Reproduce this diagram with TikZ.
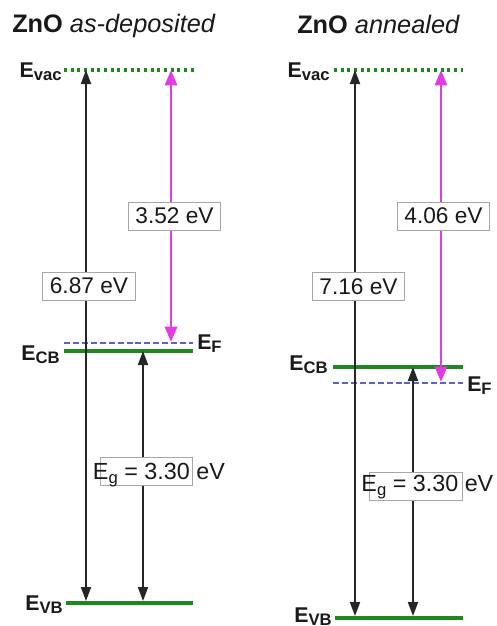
\documentclass[tikz,border=0pt]{standalone}
\usepackage{fontspec}
\setmainfont{Liberation Sans}
\usetikzlibrary{arrows.meta,positioning}
\definecolor{lvlgreen}{RGB}{30,135,30}
\definecolor{wfpink}{RGB}{225,60,225}
\definecolor{efblue}{RGB}{95,95,205}
\newcommand\sublbl[2]{#1\raisebox{-0.35ex}{\fontsize{12.5}{13}\selectfont #2}}

\begin{document}
\begin{tikzpicture}[x=0.75pt,y=-0.75pt]
  \tikzset{
    band/.style={lvlgreen, line width=2.3pt},
    vaclvl/.style={lvlgreen, line width=2.3pt, dash pattern=on 2.2pt off 2.8pt},
    fermi/.style={efblue, line width=1.1pt, dash pattern=on 4.5pt off 2.2pt},
    gaparr/.style={{Triangle[length=10.5pt,width=7.5pt]}-{Triangle[length=10.5pt,width=7.5pt]}, black!85, line width=1.4pt},
    wfarr/.style={{Triangle[length=11.5pt,width=9pt]}-{Triangle[length=11.5pt,width=9pt]}, wfpink, line width=2.2pt},
    valbox/.style={draw=black!35, fill=white, text=black!90, line width=0.6pt, minimum width=69.5pt, minimum height=21pt, inner sep=1pt, font=\fontsize{17}{19}\selectfont},
    gaptxt/.style={inner sep=0pt, anchor=base west, text=black!90, font=\fontsize{17.5}{19}\selectfont},
    lvltxt/.style={inner sep=0pt, text=black!90, font=\bfseries\fontsize{16}{18}\selectfont},
    ttl/.style={inner sep=0pt, anchor=base west, text=black!90, font=\fontsize{19}{22}\selectfont}
  }
  \useasboundingbox (0,0) rectangle (497,626);

  % ================= AS-DEPOSITED =================
  \node[ttl] (ttlA) at (12,32) {\textbf{ZnO} \textit{as-deposited}};

  % Levels
  \coordinate (vacAw) at (64,70);  \coordinate (vacAe) at (195,70);
  \coordinate (efAw) at (64,343);  \coordinate (efAe) at (193,343);
  \coordinate (cbAw) at (64,351);  \coordinate (cbAe) at (193,351);
  \coordinate (vbAw) at (66,603);  \coordinate (vbAe) at (193,603);
  \draw[vaclvl] (vacAw) -- (vacAe);
  \draw[fermi] (efAw) -- (efAe);
  \draw[band] (cbAw) -- (cbAe);
  \draw[band] (vbAw) -- (vbAe);

  \node[lvltxt, anchor=base east] (EvacA) at (62,77) {\sublbl{E}{vac}};
  \node[lvltxt, anchor=base east] (EcbA) at (60,360) {\sublbl{E}{CB}};
  \node[lvltxt, anchor=base west] (EfA) at (197,349) {\sublbl{E}{F}};
  \node[lvltxt, anchor=base east] (EvbA) at (63,610) {\sublbl{E}{VB}};

  % Arrows
  \coordinate (totAt) at (86,70);   \coordinate (totAb) at (86,601);
  \coordinate (wfAt) at (171,70);   \coordinate (wfAb) at (171,342);
  \coordinate (egAt) at (143,351);  \coordinate (egAb) at (143,601);
  \draw[gaparr] (totAt) -- node[valbox, pos=.407, xshift=2.2pt] (totA) {6.87 eV} (totAb);
  \draw[wfarr] (wfAt) -- node[valbox, pos=.537, xshift=2.6pt] (wfA) {3.52 eV} (wfAb);
  \draw[gaparr] (egAt) -- node[valbox, pos=.48, xshift=2.6pt] (egAbox) {} (egAb);
  \node[gaptxt] (egA) at ([xshift=-5.25pt, yshift=-6.4pt]egAbox.west) {\sublbl{E}{g} = 3.30 eV};

  % ================= ANNEALED =================
  \node[ttl] (ttlB) at (297,33) {\textbf{ZnO} \textit{annealed}};

  % Levels
  \coordinate (vacBw) at (334,70);  \coordinate (vacBe) at (463,70);
  \coordinate (cbBw) at (333,367);  \coordinate (cbBe) at (463,367);
  \coordinate (efBw) at (333,383);  \coordinate (efBe) at (463,383);
  \coordinate (vbBw) at (335,618);  \coordinate (vbBe) at (463,618);
  \draw[vaclvl] (vacBw) -- (vacBe);
  \draw[band] (cbBw) -- (cbBe);
  \draw[fermi] (efBw) -- (efBe);
  \draw[band] (vbBw) -- (vbBe);

  \node[lvltxt, anchor=base east] (EvacB) at (330,77) {\sublbl{E}{vac}};
  \node[lvltxt, anchor=base east] (EcbB) at (328,370) {\sublbl{E}{CB}};
  \node[lvltxt, anchor=base west] (EfB) at (467,391) {\sublbl{E}{F}};
  \node[lvltxt, anchor=base east] (EvbB) at (332,622) {\sublbl{E}{VB}};

  % Arrows
  \coordinate (totBt) at (355,70);   \coordinate (totBb) at (355,616);
  \coordinate (wfBt) at (441,70);    \coordinate (wfBb) at (441,382);
  \coordinate (egBt) at (413,367);   \coordinate (egBb) at (413,616);
  \draw[gaparr] (totBt) -- node[valbox, pos=.396, xshift=2.6pt] (totB) {7.16 eV} (totBb);
  \draw[wfarr] (wfBt) -- node[valbox, pos=.468, xshift=1.9pt] (wfB) {4.06 eV} (wfBb);
  \draw[gaparr] (egBt) -- node[valbox, pos=.48, xshift=2.2pt] (egBbox) {} (egBb);
  \node[gaptxt] (egB) at ([xshift=-6pt, yshift=-3.8pt]egBbox.west) {\sublbl{E}{g} = 3.30 eV};

\end{tikzpicture}
\end{document}
